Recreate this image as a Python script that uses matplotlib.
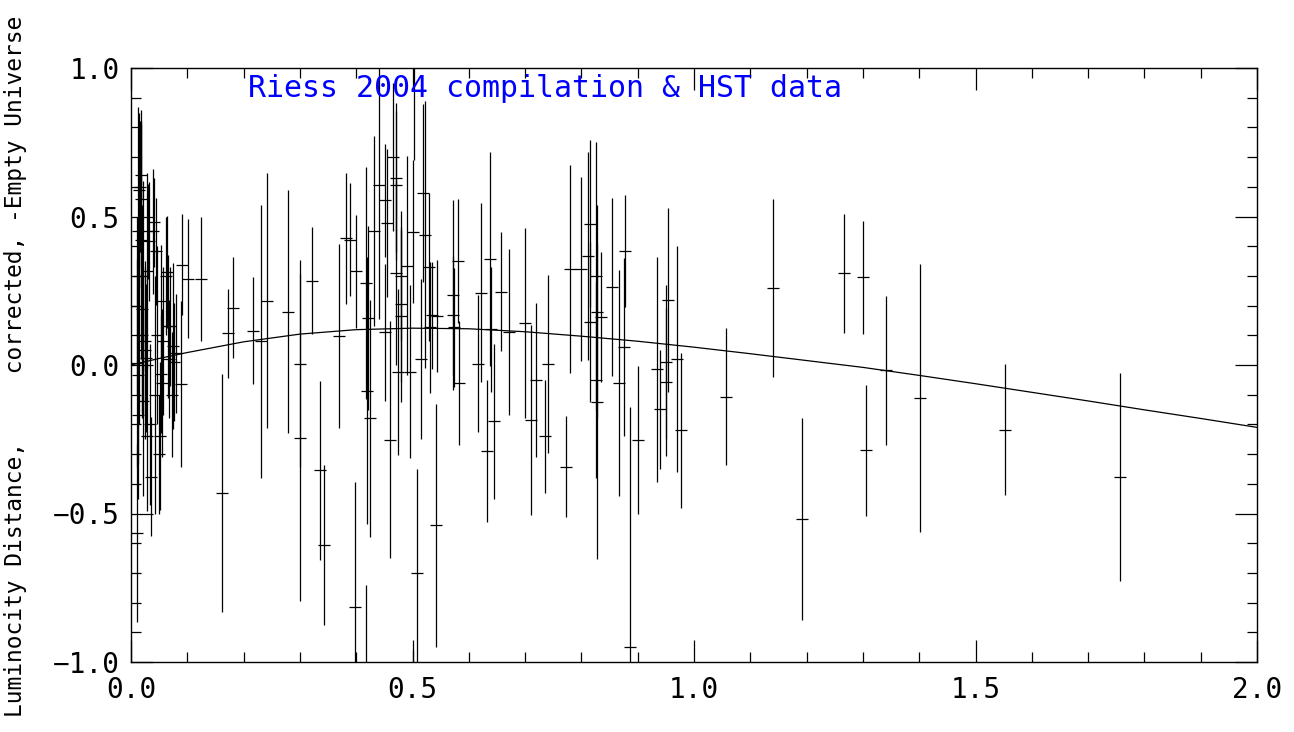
import numpy as np
import matplotlib
matplotlib.use('Agg')
import matplotlib.pyplot as plt
from matplotlib.ticker import MultipleLocator

# supernova points: redshift, residual distance modulus, error
z_data = [0.012, 0.014, 0.016, 0.015, 0.017, 0.010, 0.011, 0.012, 0.011, 0.013,
          0.018, 0.020, 0.022, 0.024, 0.025, 0.028, 0.027, 0.029, 0.031, 0.032,
          0.034, 0.035, 0.039, 0.041, 0.044, 0.043, 0.047, 0.050, 0.052, 0.053,
          0.054, 0.055, 0.057, 0.062, 0.064, 0.066, 0.068, 0.070, 0.072, 0.074,
          0.076, 0.080, 0.090, 0.089, 0.102, 0.125, 0.021, 0.019, 0.017,
          0.161, 0.173, 0.181, 0.217, 0.231, 0.241, 0.279, 0.301, 0.301, 0.321,
          0.336, 0.342, 0.370, 0.382, 0.389, 0.398, 0.400, 0.417, 0.418, 0.420,
          0.425, 0.421, 0.431, 0.441, 0.451, 0.451, 0.455, 0.466, 0.460, 0.470,
          0.471, 0.470, 0.474, 0.479, 0.479, 0.480, 0.491, 0.496, 0.500, 0.502,
          0.500, 0.508, 0.515, 0.519, 0.523, 0.529, 0.531, 0.534, 0.541, 0.544,
          0.572, 0.572, 0.574, 0.581, 0.582, 0.617, 0.621, 0.632, 0.638, 0.640,
          0.645, 0.658, 0.671, 0.699, 0.711, 0.720, 0.736, 0.741, 0.772, 0.780,
          0.799, 0.812, 0.816, 0.816, 0.826, 0.827, 0.826, 0.828, 0.834, 0.854,
          0.867, 0.876, 0.877, 0.887, 0.900, 0.935, 0.940, 0.950, 0.950, 0.954,
          0.970, 0.977,
          1.057, 1.141, 1.191, 1.266, 1.301, 1.306, 1.341, 1.401, 1.552, 1.756]
dm_data = [0.45, 0.30, 0.60, 0.59, 0.56, 0.20, 0.006, -0.034, -0.567, -0.17,
           0.42, 0.19, 0.30, 0.05, 0.08, -0.24, 0.024, 0.315, 0.45, 0.416,
           -0.20, -0.376, 0.45, 0.48, 0.383, -0.10, 0.10, -0.30, -0.239, 0.214,
           -0.03, -0.06, 0.08, 0.30, 0.313, 0.13, 0.02, 0.13, -0.10, 0.063,
           0.01, 0.04, 0.338, -0.065, 0.29, 0.29, -0.12, 0.10, 0.64,
           -0.43, 0.107, 0.193, 0.115, 0.08, 0.217, 0.18, 0.005, -0.245, 0.284,
           -0.355, -0.607, 0.098, 0.426, 0.422, -0.815, 0.316, 0.277, -1.10, -0.087,
           -0.18, 0.158, 0.452, 0.605, 0.555, 0.11, 0.478, 0.70, -0.251, 0.631,
           0.605, 0.311, -0.023, 0.204, 0.30, 0.166, 0.335, -0.022, 0.449, 1.05,
           -1.30, -0.70, 0.02, 0.58, 0.439, 0.33, 0.127, 0.168, -0.54, 0.165,
           0.237, 0.168, 0.127, 0.35, -0.061, 0.005, 0.244, -0.29, 0.356, 0.12,
           -0.19, 0.247, 0.112, 0.142, -0.185, -0.05, -0.24, 0.003, -0.343, 0.323,
           0.323, 0.367, 0.476, 0.144, 0.30, 0.18, -0.05, -0.124, 0.162, 0.263,
           -0.06, 0.061, 0.384, -0.95, -0.253, -0.015, -0.149, 0.010, -0.057, 0.219,
           0.02, -0.22,
           -0.107, 0.26, -0.519, 0.309, 0.296, -0.287, -0.018, -0.111, -0.218, -0.378]
dm_err = [0.42, 0.50, 0.22, 0.26, 0.30, 0.30, 0.35, 0.30, 0.30, 0.28,
          0.40, 0.35, 0.32, 0.30, 0.25, 0.25, 0.25, 0.33, 0.16, 0.20,
          0.27, 0.20, 0.21, 0.15, 0.18, 0.40, 0.30, 0.20, 0.25, 0.19,
          0.20, 0.25, 0.25, 0.20, 0.19, 0.24, 0.20, 0.20, 0.21, 0.28,
          0.20, 0.20, 0.17, 0.28, 0.20, 0.21, 0.32, 0.28, 0.17,
          0.40, 0.15, 0.17, 0.18, 0.46, 0.43, 0.41, 0.35, 0.55, 0.18,
          0.30, 0.27, 0.31, 0.22, 0.19, 0.42, 0.19, 0.39, 0.36, 0.45,
          0.40, 0.31, 0.32, 0.45, 0.19, 0.23, 0.25, 0.25, 0.40, 0.25,
          0.25, 0.31, 0.28, 0.26, 0.22, 0.29, 0.37, 0.29, 0.24, 0.36,
          0.34, 0.35, 0.27, 0.30, 0.45, 0.25, 0.22, 0.18, 0.41, 0.19,
          0.32, 0.20, 0.20, 0.21, 0.21, 0.23, 0.30, 0.24, 0.36, 0.21,
          0.26, 0.20, 0.28, 0.32, 0.32, 0.26, 0.19, 0.30, 0.17, 0.35,
          0.31, 0.35, 0.28, 0.27, 0.45, 0.36, 0.33, 0.53, 0.22, 0.30,
          0.38, 0.30, 0.19, 0.81, 0.25, 0.38, 0.20, 0.26, 0.25, 0.31,
          0.38, 0.26,
          0.23, 0.30, 0.34, 0.20, 0.19, 0.22, 0.25, 0.45, 0.22, 0.35]

# model curve
curve_z = [0.0, 0.025, 0.05, 0.1, 0.2, 0.3, 0.4, 0.5, 0.6, 0.7, 0.8, 0.9, 1.0,
           1.1, 1.2, 1.3, 1.4, 1.5, 1.6, 1.7, 1.8, 1.9, 2.0]
curve_dm = [0.0, 0.011, 0.022, 0.042, 0.078, 0.104, 0.119, 0.124, 0.122, 0.112,
            0.097, 0.080, 0.060, 0.038, 0.015, -0.008, -0.035, -0.063, -0.092,
            -0.121, -0.151, -0.180, -0.210]

title_text = 'Riess 2004 compilation & HST data'
ylabel_text = 'Luminocity Distance,     corrected, -Empty Universe'

plt.rcParams['font.family'] = ['DejaVu Sans Mono', 'DejaVu Sans']

fig = plt.figure(figsize=(12.94, 7.32), dpi=100)
ax = fig.add_axes([131/1294, 70/732, 1126/1294, 594/732])

ax.errorbar(z_data, dm_data, yerr=dm_err, fmt='_', color='k', ms=8, mew=0.9,
            elinewidth=0.9, capsize=0)
ax.plot(curve_z, curve_dm, color='k', lw=0.9)

ax.set_xlim(0, 2)
ax.set_ylim(-1, 1)
ax.xaxis.set_major_locator(MultipleLocator(0.5))
ax.xaxis.set_minor_locator(MultipleLocator(0.1))
ax.yaxis.set_major_locator(MultipleLocator(0.5))
ax.yaxis.set_minor_locator(MultipleLocator(0.1))
ax.xaxis.set_major_formatter(plt.FormatStrFormatter('%.1f'))
ax.yaxis.set_major_formatter(plt.FuncFormatter(lambda v, p: ('%.1f' % v).replace('-', '\u2212')))
ax.tick_params(which='both', direction='in', top=True, right=True, width=0.9,
               labelsize=20, colors='k')
ax.tick_params(which='major', length=16)
ax.tick_params(which='minor', length=7)
ax.tick_params(axis='x', pad=10)
ax.tick_params(axis='y', pad=8)
for s in ax.spines.values():
    s.set_linewidth(1.0)

ax.text(0.208, 0.93, title_text, color='blue', fontsize=21.5, va='center', ha='left')
fig.text(16/1294, 0.5, ylabel_text, rotation=90, va='center', ha='center', fontsize=16.5)

fig.savefig('out.png', dpi=100)
